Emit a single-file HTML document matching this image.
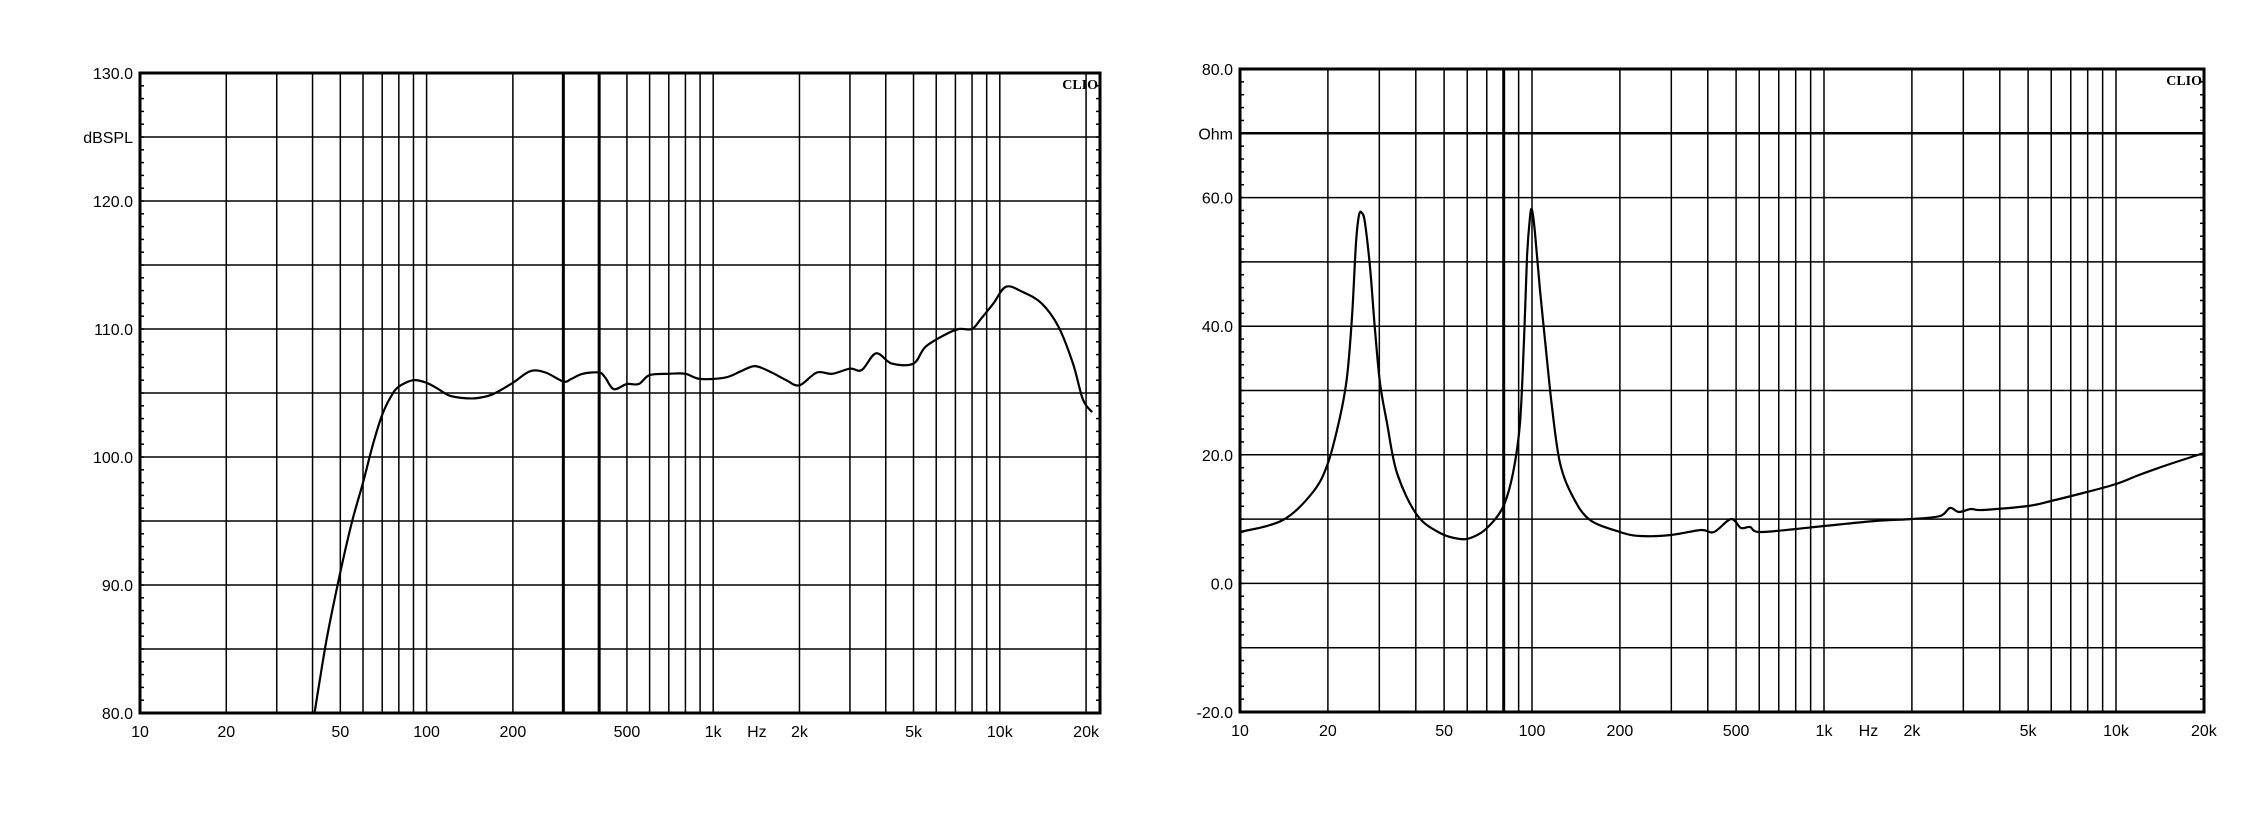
<!DOCTYPE html>
<html><head><meta charset="utf-8"><style>
html,body{margin:0;padding:0;background:#fff;}
svg{display:block;}
text{font-family:"Liberation Sans",sans-serif;font-size:16px;fill:#000;}
.clio{font-family:"Liberation Serif",serif;font-weight:bold;font-size:14px;}
</style></head><body>
<svg id="s" width="2255" height="814" xmlns="http://www.w3.org/2000/svg"></svg>
<script>
const S=document.getElementById('s');let h='';
function ln(x1,y1,x2,y2,w){h+=`<line x1="${x1}" y1="${y1}" x2="${x2}" y2="${y2}" stroke="#000" stroke-width="${w}"/>`;}
function tx(x,y,t,a,c){h+=`<text x="${x}" y="${y}" text-anchor="${a||'middle'}" ${c?'class="'+c+'"':''}>${t}</text>`;}
const freqs=[20,30,40,50,60,70,80,90,100,200,300,400,500,600,700,800,900,1000,2000,3000,4000,5000,6000,7000,8000,9000,10000,20000];
function plot(P){
  const X=f=>P.x0+P.dec*Math.log10(f/10);
  const Y=v=>P.y0+(P.vmax-v)*(P.y1-P.y0)/(P.vmax-P.vmin);
  for(let v=P.vmin+P.gstep;v<P.vmax;v+=P.gstep) ln(P.x0,Y(v),P.x1,Y(v),v===P.thickY?2.5:1.5);
  freqs.forEach(f=>{const x=X(f);if(x<P.x1-1)ln(x,P.y0,x,P.y1,P.thickF.includes(f)?3:1.5);});
  for(let v=P.vmin+P.tstep;v<P.vmax;v+=P.tstep){const y=Y(v);ln(P.x0,y,P.x0+4,y,1.5);ln(P.x1-4,y,P.x1,y,1.5);}
  h+=`<rect x="${P.x0}" y="${P.y0}" width="${P.x1-P.x0}" height="${P.y1-P.y0}" fill="none" stroke="#000" stroke-width="3"/>`;
  P.ylabels.forEach(([v,t])=>tx(P.x0-7,Y(v)+6,t,'end'));
  [[10,'10'],[20,'20'],[50,'50'],[100,'100'],[200,'200'],[500,'500'],[1000,'1k'],[2000,'2k'],[5000,'5k'],[10000,'10k'],[20000,'20k']].forEach(([f,t])=>tx(X(f),P.y1+24,t));
  tx(X(1420),P.y1+24,'Hz');
  tx(P.x1-2,P.y0+16,'CLIO','end','clio');
  // curve
  const pts=P.data.map(p=>P.pix?p:[X(p[0]),Y(p[1])]);
  let d=`M${pts[0][0]},${pts[0][1]}`;
  for(let i=0;i<pts.length-1;i++){
    const p0=pts[Math.max(0,i-1)],p1=pts[i],p2=pts[i+1],p3=pts[Math.min(pts.length-1,i+2)];
    const c1=[p1[0]+(p2[0]-p0[0])/6,p1[1]+(p2[1]-p0[1])/6],c2=[p2[0]-(p3[0]-p1[0])/6,p2[1]-(p3[1]-p1[1])/6];
    d+=`C${c1[0].toFixed(1)},${c1[1].toFixed(1)} ${c2[0].toFixed(1)},${c2[1].toFixed(1)} ${p2[0].toFixed(1)},${p2[1].toFixed(1)}`;
  }
  h+=`<defs><clipPath id="c${P.id}"><rect x="${P.x0}" y="${P.y0}" width="${P.x1-P.x0}" height="${P.y1-P.y0}"/></clipPath></defs>`;
  h+=`<path d="${d}" fill="none" stroke="#000" stroke-width="2.2" clip-path="url(#c${P.id})"/>`;
}
plot({id:1,x0:140,x1:1100,y0:73,y1:713,dec:286.6,vmin:80,vmax:130,gstep:5,tstep:1,thickY:null,thickF:[300,400],
 ylabels:[[130,'130.0'],[125,'dBSPL'],[120,'120.0'],[110,'110.0'],[100,'100.0'],[90,'90.0'],[80,'80.0']],
 data:[[40,79],[42,82],[45,86],[50,91],[55,95],[60,98],[65,101],[70,103.3],[75,104.7],[80,105.5],[90,106],[100,105.8],[110,105.3],[120,104.8],[135,104.6],[150,104.6],[170,104.9],[200,105.8],[230,106.7],[260,106.6],[300,105.9],[320,106.1],[350,106.5],[400,106.6],[420,106.2],[450,105.3],[500,105.7],[550,105.7],[600,106.4],[700,106.5],[800,106.5],[900,106.1],[1100,106.2],[1250,106.7],[1400,107.1],[1600,106.6],[1800,106],[2000,105.6],[2300,106.6],[2600,106.5],[3000,106.9],[3300,106.8],[3700,108.1],[4200,107.3],[5000,107.3],[5500,108.6],[6500,109.6],[7200,110],[8000,110],[8600,110.8],[9500,112],[10500,113.3],[12000,112.9],[14000,112],[16000,110.2],[18000,107.3],[19500,104.5],[21000,103.5]]});
plot({id:2,x0:1240,x1:2204,y0:69,y1:712,dec:292,vmin:-20,vmax:80,gstep:10,tstep:2,thickY:70,thickF:[80],
 ylabels:[[80,'80.0'],[70,'Ohm'],[60,'60.0'],[40,'40.0'],[20,'20.0'],[0,'0.0'],[-20,'-20.0']],pix:true,
 data:[[1240,532],[1283,520],[1313,492],[1328,463],[1340,417],[1347,377],[1352,317],[1356,243],[1359,215],[1362,213],[1365,223],[1370,267],[1375,330],[1380,383],[1387,423],[1397,473],[1417,515],[1440,533],[1460,539],[1473,537],[1487,528],[1503,507],[1513,473],[1520,423],[1524,340],[1527,257],[1530,217],[1532,210],[1535,233],[1540,290],[1545,340],[1552,407],[1560,463],[1573,497],[1590,520],[1620,532],[1640,536],[1671,535],[1701,530],[1714,532],[1731,519],[1741,528],[1750,527],[1759,532],[1796,529],[1824,526],[1875,521],[1912,519],[1940,516],[1950,508],[1959,512],[1971,509],[1983,510],[2028,506],[2051,501],[2087,492],[2116,484],[2139,475],[2167,465],[2204,453]]});
S.innerHTML=h;
</script>
</body></html>
